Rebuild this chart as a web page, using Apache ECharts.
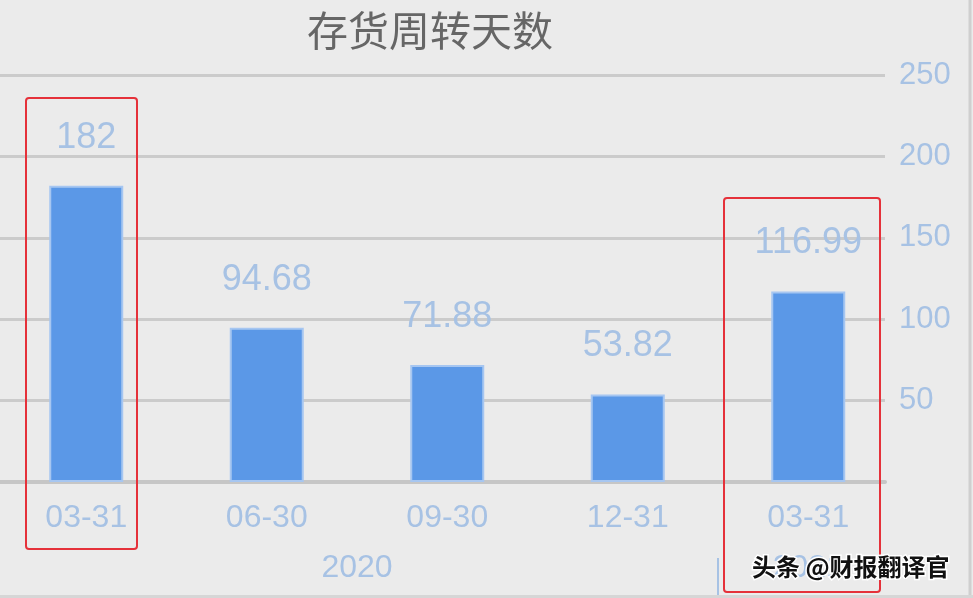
<!DOCTYPE html>
<html>
<head>
<meta charset="utf-8">
<script src="https://cdn.jsdelivr.net/npm/echarts@6/dist/echarts.min.js"></script>
<style>
html,body{margin:0;padding:0;background:#ebebeb;}
#main{width:973px;height:598px;}
</style>
</head>
<body>
<div id="main"></div>
<script>
const categories = ['03-31', '06-30', '09-30', '12-31', '03-31'];
const values = [182, 94.68, 71.88, 53.82, 116.99];
const yearLabels = ['2020', '2021'];
const yearCenters = [1.5, 4];
const yearSeparators = [3.5];
const yTicks = [0, 50, 100, 150, 200, 250];

const lightBlue = '#a7c2e4';
const chart = echarts.init(document.getElementById('main'));
chart.setOption({
  backgroundColor: '#ebebeb',
  animation: false,
  title: {
    text: '存货周转天数',
    left: 302,
    top: 5,
    textStyle: {fontSize: 41, fontWeight: 'normal', color: '#666666', fontFamily: 'Noto Sans CJK SC'}
  },
  grid: [
    {left: -4, right: 74.5, top: 75, bottom: 116, outerBoundsMode: 'none', containLabel: false},
    {left: 0, right: 88, top: 75, bottom: 116, outerBoundsMode: 'none', containLabel: false}
  ],
  xAxis: [
    {
      type: 'category', gridIndex: 0, data: categories,
      axisLine: {show: false}, axisTick: {show: false},
      axisLabel: {color: lightBlue, fontSize: 32, margin: 20, fontFamily: 'Liberation Sans'}
    },
    {
      type: 'value', gridIndex: 0, position: 'bottom', offset: 76,
      min: -0.5, max: 4.5,
      axisLine: {show: false},
      splitLine: {show: false},
      axisTick: {show: true, customValues: yearSeparators, length: 42, lineStyle: {color: lightBlue, width: 2}},
      axisLabel: {
        customValues: yearCenters, margin: -6, color: lightBlue, fontSize: 32, fontFamily: 'Liberation Sans',
        formatter: function (v) { const i = yearCenters.indexOf(v); return i >= 0 ? yearLabels[i] : ''; }
      }
    },
    {
      type: 'value', gridIndex: 1, min: 0, max: 1,
      axisLine: {show: true, lineStyle: {color: '#c6c6c6', width: 4}},
      axisTick: {show: false}, axisLabel: {show: false}, splitLine: {show: false}
    }
  ],
  yAxis: [
    {
      type: 'value', gridIndex: 0, min: 0, max: 250, interval: 50,
      show: false, splitLine: {show: false}
    },
    {
      type: 'value', gridIndex: 1, position: 'right', min: yTicks[0], max: yTicks[yTicks.length - 1], interval: 50,
      axisLine: {show: false}, axisTick: {show: false},
      axisLabel: {
        color: lightBlue, fontSize: 31, margin: 14, fontFamily: 'Liberation Sans',
        showMinLabel: false,
        formatter: function (v) { return v === yTicks[0] ? '' : String(v); }
      },
      splitLine: {show: true, lineStyle: {color: '#cbcbcb', width: 3}}
    }
  ],
  series: [{
    type: 'bar',
    xAxisIndex: 0, yAxisIndex: 0,
    data: values,
    barWidth: 74,
    itemStyle: {color: '#5b98e7', borderColor: '#a6c6f1', borderWidth: 2},
    label: {
      show: true, position: 'top', distance: 30,
      color: lightBlue, fontSize: 36, fontFamily: 'Liberation Sans'
    },
    z: 3
  }],
  graphic: [
    {type: 'rect', shape: {x: 26, y: 98, width: 111, height: 451, r: 3}, style: {fill: 'none', stroke: '#e5313a', lineWidth: 2}, z: 10},
    {type: 'rect', shape: {x: 724, y: 198, width: 156, height: 394, r: 3}, style: {fill: 'none', stroke: '#e5313a', lineWidth: 2}, z: 10},
    {type: 'line', shape: {x1: 970, y1: 0, x2: 970, y2: 598}, style: {stroke: '#cfcfcf', lineWidth: 3}, z: 10},
    {type: 'line', shape: {x1: 0, y1: 596.5, x2: 973, y2: 596.5}, style: {stroke: '#d6d6d6', lineWidth: 3}, z: 10},
    {type: 'text', x: 752, y: 555, style: {
      text: '头条 @财报翻译官', fontSize: 24, fontWeight: 'bold', fill: '#111111', fontFamily: 'Noto Sans CJK SC',
      stroke: '#ffffff', lineWidth: 3
    }, z: 20}
  ]
});
</script>
</body>
</html>
